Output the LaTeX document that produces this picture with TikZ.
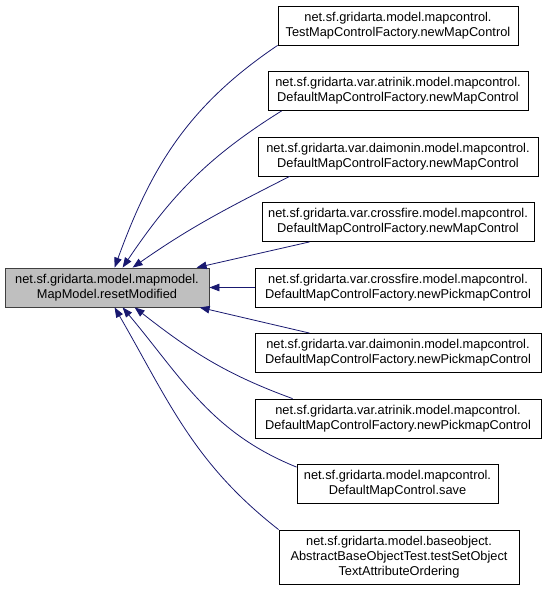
\documentclass[tikz,border=0pt]{standalone}
\usepackage{fontspec}
\setmainfont{Liberation Sans}
\usetikzlibrary{arrows.meta, positioning, calc}
\definecolor{edgeblue}{HTML}{191970}
\definecolor{nodegray}{HTML}{BFBFBF}
\definecolor{boxline}{HTML}{404040}

\begin{document}
\begin{tikzpicture}[
  x=1pt, y=-1pt,
  >={Triangle[length=10pt, width=7.5pt]},
  fn/.style={draw=black, line width=0.8pt, fill=white, align=center,
    inner sep=0pt, minimum height=39pt, font=\fontsize{12.8}{15}\selectfont},
  callee/.style={fn, fill=nodegray, draw=boxline},
  call/.style={edgeblue, line width=0.8pt, ->},
]

% Page: 552 x 590, y grows downward
\useasboundingbox (0,0) rectangle (552,590);

% --- Called function ---
\node[callee, minimum width=204pt] (main) at (107,287.5)
  {net.sf.gridarta.model.mapmodel.\\MapModel.resetModified};

% --- Callers ---
\node[fn, minimum width=240pt] (test) at (398,25.5)
  {net.sf.gridarta.model.mapcontrol.\\TestMapControlFactory.newMapControl};
\node[fn, minimum width=260pt] (atrmap) at (398,91)
  {net.sf.gridarta.var.atrinik.model.mapcontrol.\\DefaultMapControlFactory.newMapControl};
\node[fn, minimum width=280pt] (daimap) at (398,156.5)
  {net.sf.gridarta.var.daimonin.model.mapcontrol.\\DefaultMapControlFactory.newMapControl};
\node[fn, minimum width=272pt] (cfmap) at (398,222)
  {net.sf.gridarta.var.crossfire.model.mapcontrol.\\DefaultMapControlFactory.newMapControl};
\node[fn, minimum width=286pt] (cfpick) at (398,287.5)
  {net.sf.gridarta.var.crossfire.model.mapcontrol.\\DefaultMapControlFactory.newPickmapControl};
\node[fn, minimum width=286pt] (daipick) at (398,353)
  {net.sf.gridarta.var.daimonin.model.mapcontrol.\\DefaultMapControlFactory.newPickmapControl};
\node[fn, minimum width=286pt] (atrpick) at (398,418.5)
  {net.sf.gridarta.var.atrinik.model.mapcontrol.\\DefaultMapControlFactory.newPickmapControl};
\node[fn, minimum width=201pt] (save) at (397.5,484)
  {net.sf.gridarta.model.mapcontrol.\\DefaultMapControl.save};
\node[fn, minimum width=240pt, minimum height=54pt] (attrtest) at (399,557)
  {net.sf.gridarta.model.baseobject.\\AbstractBaseObjectTest.testSetObject\\TextAttributeOrdering};

% --- Calls ---
\draw[call] (test.south west) to[out=214, in=70] ([xshift=110pt]main.north west);
\draw[call] ([xshift=14pt]atrmap.south west) to[out=212, in=56] ([xshift=118pt]main.north west);
\draw[call] ([xshift=32pt]daimap.south west) to[out=207, in=35] ([xshift=128pt]main.north west);
\draw[call] ([xshift=48pt]cfmap.south west) -- ([xshift=192pt]main.north west);
\draw[call] (cfpick) -- (main);
\draw[call] ([xshift=55pt]daipick.north west) -- ([xshift=195pt]main.south west);
\draw[call] ([xshift=38pt]atrpick.north west) to[out=160, in=-38] ([xshift=130pt]main.south west);
\draw[call] ([yshift=-3pt]save.north west) to[out=158, in=-50] ([xshift=118pt]main.south west);
\draw[call] (attrtest.north west) to[out=142, in=-60] ([xshift=110pt]main.south west);

\end{tikzpicture}
\end{document}
